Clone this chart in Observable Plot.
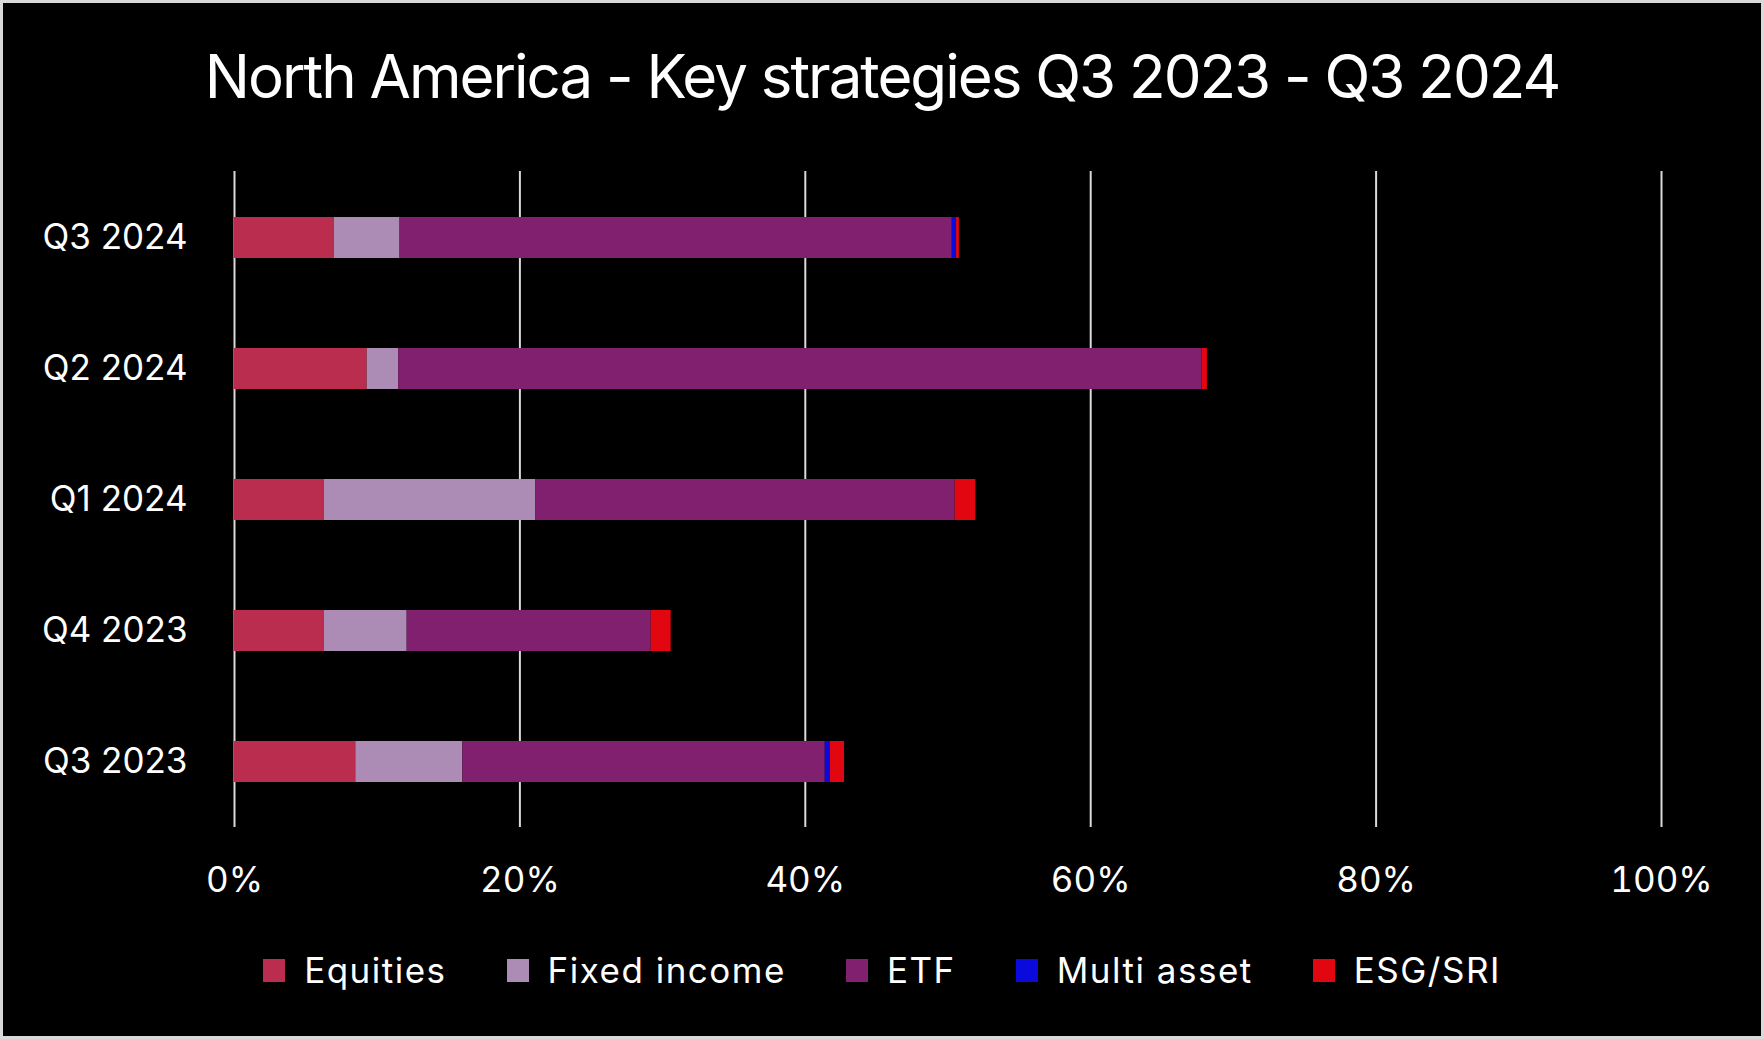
<!DOCTYPE html>
<html><head><meta charset="utf-8">
<script src="https://cdn.jsdelivr.net/npm/d3@7"></script>
<script src="https://cdn.jsdelivr.net/npm/@observablehq/plot@0.6"></script>
<style>
html,body{margin:0;padding:0;background:#000;}
#chart{position:relative;width:1764px;height:1039px;background:#000;overflow:hidden;font-family:Inter, sans-serif;color:#fff;}
#frame{position:absolute;left:0;top:0;right:0;bottom:0;border:3px solid #d9d9d9;pointer-events:none;}
#title{position:absolute;left:0;top:46px;width:1764px;text-align:center;font-size:60px;line-height:60px;letter-spacing:-2px;white-space:nowrap;}
#plot{position:absolute;left:0;top:120px;}
#legend{position:absolute;left:0;top:953px;width:1764px;display:flex;justify-content:center;align-items:center;font-size:35px;line-height:35px;letter-spacing:1.5px;white-space:nowrap;}
.item{display:flex;align-items:center;margin:0 30px;}
.sw{width:22px;height:23px;margin-right:19px;}
</style></head><body>
<div id="chart"><div id="title"></div><div id="plot"></div><div id="legend"></div><div id="frame"></div></div>
<script>
const titleText = "North America - Key strategies Q3 2023 - Q3 2024";
const quarters = ["Q3 2023", "Q4 2023", "Q1 2024", "Q2 2024", "Q3 2024"];
const series = ["Equities", "Fixed income", "ETF", "Multi asset", "ESG/SRI"];
const colors = ["#BA2D4E", "#AC8BB5", "#822070", "#0A0ADC", "#E1060F"];
const equities = [8.5, 6.3, 6.3, 9.3, 7.0];
const fixedIncome = [7.5, 5.8, 14.8, 2.2, 4.6];
const etf = [25.4, 17.1, 29.4, 56.3, 38.7];
const multiAsset = [0.35, 0, 0, 0, 0.3];
const esgSri = [1.0, 1.4, 1.45, 0.38, 0.2];
const xTicks = [0, 20, 40, 60, 80, 100];

const seriesValues = [equities, fixedIncome, etf, multiAsset, esgSri];
const data = [];
quarters.forEach((q, i) => {
  series.forEach((s, j) => {
    data.push({quarter: q, series: s, value: seriesValues[j][i]});
  });
});

document.getElementById("title").textContent = titleText;

const plot = Plot.plot({
  width: 1764,
  height: 800,
  marginTop: 51,
  marginBottom: 93,
  marginLeft: 234,
  marginRight: 103,
  style: {background: "transparent", color: "#fff", fontFamily: "Inter, sans-serif", overflow: "visible"},
  x: {domain: [0, 100]},
  y: {domain: quarters.slice().reverse(), paddingInner: 0.69, paddingOuter: 0.345},
  color: {domain: series, range: colors},
  marks: [
    Plot.ruleX(xTicks, {stroke: "#d9d9d9", strokeWidth: 2}),
    Plot.barX(data, Plot.stackX({x: "value", y: "quarter", fill: "series"})),
    Plot.axisX({ticks: xTicks, tickFormat: d => d + "%", tickSize: 0, tickPadding: 40, fontSize: 35, label: null}),
    Plot.axisY({tickSize: 0, tickPadding: 47, fontSize: 35, label: null})
  ]
});
document.getElementById("plot").appendChild(plot);

const legend = document.getElementById("legend");
series.forEach((s, j) => {
  const item = document.createElement("div");
  item.className = "item";
  const sw = document.createElement("div");
  sw.className = "sw";
  sw.style.background = colors[j];
  const t = document.createElement("span");
  t.textContent = s;
  item.appendChild(sw);
  item.appendChild(t);
  legend.appendChild(item);
});
</script></body></html>
